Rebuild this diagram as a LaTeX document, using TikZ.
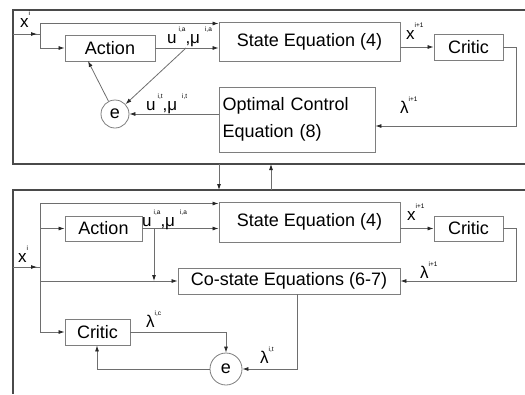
\documentclass[tikz,border=0pt]{standalone}
\usepackage{fontspec}
\setmainfont{Liberation Sans}
\usetikzlibrary{arrows.meta,calc}
\definecolor{framegray}{HTML}{4A4A4A}
\definecolor{boxgray}{HTML}{7E7E7E}
\definecolor{linegray}{HTML}{6E6E6E}
\newcommand\spx[1]{\raisebox{1.25ex}{\fontsize{6.5}{6.5}\selectfont #1}}
\begin{document}
\begin{tikzpicture}[x=1pt,y=-1pt,
  box/.style={draw=boxgray, line width=0.9pt, inner sep=0pt, font=\fontsize{18}{20}\selectfont},
  conn/.style={draw=linegray, line width=0.8pt},
  arr/.style={conn, -{Latex[length=6pt,width=4pt,color=black!85]}},
  frame/.style={draw=framegray, line width=1.1pt},
  lab/.style={font=\fontsize{17}{17}\selectfont, anchor=base west, inner sep=0pt},
  ecirc/.style={circle, draw=boxgray, line width=0.8pt, inner sep=0pt, font=\fontsize{18}{20}\selectfont}]
\useasboundingbox (0,0) rectangle (525,394);
% frames
\draw[frame] (525,10) -- (13,10) -- (13,164) -- (525,164);
\draw[frame] (525,190) -- (13,190) -- (13,394);

% ---------- top frame ----------
\node[box, minimum width=90pt, minimum height=26pt] (actT) at (110,48) {Action};
\node[box, minimum width=181pt, minimum height=39pt] (stT) at (309.5,41.5) {State Equation (4)};
\node[box, minimum width=69pt, minimum height=26pt] (crT) at (468.5,47) {Critic};
\node[box, minimum height=65pt, text width=149pt, inner xsep=3.5pt, align=left] (ocT) at (297,119.5)
  {Optimal Control\\[7pt]Equation (8)};
\node[ecirc, minimum size=28pt] (eT) at (115,114) {e};

\coordinate (inT) at (13,34);
\coordinate (jT) at (40,34);
\coordinate (jTa) at (40,23.5);
\coordinate (jTb) at (40,48);
\coordinate (uT) at (186,48);
\coordinate (aTb) at (88,61);
\coordinate (rT) at (516,47);

\draw[conn] (inT) -- (jT);
\draw[arr] (inT) -- ++(24,0);
\draw[conn] (jTa) -- (jTb);
\draw[arr] (jTa) -- (jTa -| stT.west);
\draw[arr] (jTb) -- (actT.west);
\draw[arr] (actT.east) -- (actT.east -| stT.west);
\draw[arr] (uT) -- (eT);
\draw[arr] (eT) -- (aTb);
\draw[arr] (eT -| ocT.west) -- (eT);
\draw[arr] (stT.east |- crT.west) -- (crT.west);
\draw[arr] (crT.east) -- (rT) -- (rT |- 0,126) -- (ocT.east |- 0,126);

\node[lab] (lxT) at (20,27) {x\spx{i}};
\node[lab] (luT) at (167,43) {u\hspace{2pt}\spx{i,a},μ\hspace{5pt}\spx{i,a}};
\node[lab] (lxnT) at (406,39) {x\spx{i+1}};
\node[lab] (llT) at (400,113) {λ\spx{i+1}};
\node[lab] (lutT) at (146,110) {u\hspace{2pt}\spx{i,t},μ\hspace{5pt}\spx{i,t}};

% between frames
\coordinate (dA) at (219,164);
\coordinate (dB) at (219,190);
\coordinate (uA) at (271,190);
\coordinate (uB) at (271,164);
\draw[arr] (dA) -- (dB);
\draw[arr] (uA) -- (uB);

% ---------- bottom frame ----------
\node[box, minimum width=77pt, minimum height=25pt] (actB) at (103.5,228.5) {Action};
\node[box, minimum width=181pt, minimum height=40pt] (stB) at (309.5,222) {State Equation (4)};
\node[box, minimum width=69pt, minimum height=25pt] (crB) at (468.5,228.5) {Critic};
\node[box, minimum width=222pt, minimum height=26pt] (csB) at (289,281) {Co-state Equations (6-7)};
\node[box, minimum width=65pt, minimum height=26pt] (crB2) at (97.5,332) {Critic};
\node[ecirc, minimum size=32pt] (eB) at (226,369) {e};

\coordinate (inB) at (13,267);
\coordinate (jB) at (40,267);
\coordinate (jB1) at (40,203.5);
\coordinate (jB2) at (40,228.5);
\coordinate (jB3) at (40,281);
\coordinate (jB4) at (40,332);
\coordinate (uB1) at (154,228.5);
\coordinate (rB) at (516,228.5);
\coordinate (csX) at (297,294);
\coordinate (cB) at (226,332);
\coordinate (cB2) at (97,369);

\draw[conn] (inB) -- (jB);
\draw[arr] (inB) -- ++(24,0);
\draw[conn] (jB1) -- (jB4);
\draw[arr] (jB1) -- (jB1 -| stB.west);
\draw[arr] (jB2) -- (actB.west);
\draw[arr] (jB3) -- (csB.west);
\draw[arr] (jB4) -- (crB2.west);
\draw[arr] (actB.east) -- (actB.east -| stB.west);
\draw[arr] (uB1) -- (uB1 |- csB.west);
\draw[arr] (stB.east |- crB.west) -- (crB.west);
\draw[arr] (crB.east) -- (rB) -- (rB |- csB.east) -- (csB.east);
\draw[arr] (csX) -- (csX |- eB.east) -- (eB.east);
\draw[arr] (crB2.east) -- (cB) -- (eB.north);
\draw[arr] (eB.west) -- (cB2) -- (crB2.south -| cB2);

\node[lab] (lxB) at (18,262) {x\spx{i}};
\node[lab] (luB) at (142,226) {u\hspace{2pt}\spx{i,a},μ\hspace{5pt}\spx{i,a}};
\node[lab] (lxnB) at (407,220) {x\spx{i+1}};
\node[lab] (llB) at (420,278) {λ\spx{i+1}};
\node[lab] (llcB) at (146,327) {λ\spx{i,c}};
\node[lab] (lltB) at (260,363) {λ\spx{i,t}};
\end{tikzpicture}
\end{document}
